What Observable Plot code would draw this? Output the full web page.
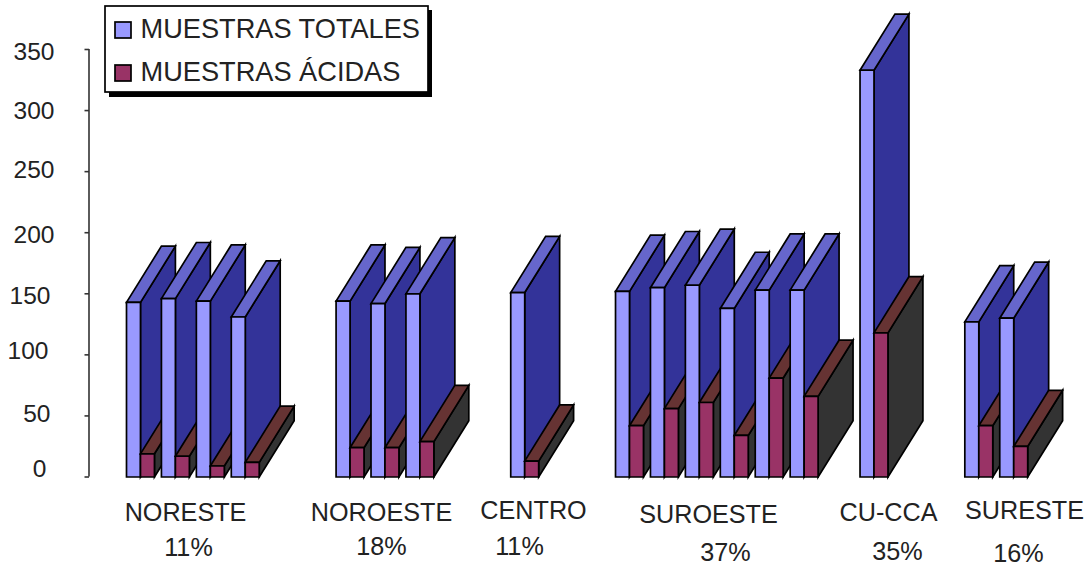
<!DOCTYPE html>
<html lang="es">
<head>
<meta charset="utf-8">
<script src="https://cdn.jsdelivr.net/npm/d3@7"></script>
<script src="https://cdn.jsdelivr.net/npm/@observablehq/plot@0.6"></script>
<style>html,body{margin:0;padding:0;background:#fff}svg{display:block}</style>
</head>
<body>
<div id="chart"></div>
<script>
// Data: one slot per category position of the original chart, null = empty slot
const totals = [143,146,144,131,null,null,144,142,150,null,null,151,null,null,152,155,157,138,153,153,null,333,null,null,127,130];
const acidic = [19,17,9,12,null,null,24,24,29,null,null,13,null,null,42,56,61,34,81,66,null,118,null,null,42,25];
const regions = ["NORESTE","NOROESTE","CENTRO","SUROESTE","CU-CCA","SURESTE"];
const shares = ["11%","18%","11%","37%","35%","16%"];
const tickValues = [0,50,100,150,200,250,300,350];
const seriesNames = ["MUESTRAS TOTALES","MUESTRAS ÁCIDAS"];

// Layout (kept apart from the data)
const X0 = 126, SLOT = 34.93, Y0 = 476.5, Y350 = 49;
const k = (Y0 - Y350) / 350;
const xv = px => (px - X0) / SLOT;      // pixel -> slot units, for annotations
const yv = px => (Y0 - px) / k;         // pixel -> value units, for annotations
const BAR = 0.4, DX = 1, DY = 46;       // bar width & depth in scale units
const regionPos = [[185,512],[381,512],[533,510],[708,514],[888,512],[1024,510]];
const sharePos  = [[188,547],[381,546],[519,546],[725,552],[897,551],[1018,553]];
const tickLabelPos = [[46,469],[50,414],[48,351],[50,296],[54,235],[54,170],[54,111],[54,52]];

const faces = [];
let id = 0;
function box(x, w, top, cFront, cTop, cSide) {
  const add = (fill, pts) => { id++; pts.forEach(([px,py]) => faces.push({id, fill, x:px, y:py})); };
  add(cSide, [[x+w,0],[x+w,top],[x+w+DX,top+DY],[x+w+DX,DY]]);
  add(cTop,  [[x,top],[x+w,top],[x+w+DX,top+DY],[x+DX,top+DY]]);
  add(cFront,[[x,0],[x,top],[x+w,top],[x+w,0]]);
}
totals.forEach((t, i) => {
  if (t == null) return;
  box(i, BAR, t, "#9999ff", "#6666cc", "#333399");
  box(i + BAR, BAR, acidic[i], "#993366", "#663333", "#333333");
});

const txt = "#222";
const font = "Liberation Sans, Arial, sans-serif";
const chart = Plot.plot({
  width: 1090, height: 567,
  marginLeft: 0, marginRight: 0, marginTop: 0, marginBottom: 0,
  style: {fontFamily: font, background: "#fff"},
  x: {domain: [0, 25], range: [X0, X0 + 25 * SLOT], axis: null},
  y: {domain: [0, 350], range: [Y0, Y350], axis: null},
  color: {type: "identity"},
  marks: [
    Plot.ruleX([xv(88.5)], {y1: 0, y2: 350, stroke: "#333", strokeWidth: 1.6}),
    Plot.text(tickValues, {
      x: (d, i) => xv(tickLabelPos[i][0]), y: (d, i) => yv(tickLabelPos[i][1]),
      text: d => String(d), textAnchor: "end", lineAnchor: "middle", fontSize: 24.5, fill: txt
    }),
    Plot.link(tickValues, {x1: xv(84), x2: xv(88.5), y1: d => d, y2: d => d, stroke: "#333", strokeWidth: 1.6}),
    Plot.line(faces, {
      x: "x", y: "y", z: "id", fill: "fill", stroke: "#000", strokeWidth: 1.7,
      curve: "linear-closed", strokeLinejoin: "miter", strokeMiterlimit: 4
    }),
    Plot.text(regions, {
      x: (d, i) => xv(regionPos[i][0]), y: (d, i) => yv(regionPos[i][1]),
      text: d => d, textAnchor: "middle", lineAnchor: "middle", fontSize: 25.2, fill: txt
    }),
    Plot.text(shares, {
      x: (d, i) => xv(sharePos[i][0]), y: (d, i) => yv(sharePos[i][1]),
      text: d => d, textAnchor: "middle", lineAnchor: "middle", fontSize: 25.2, fill: txt
    }),
    // Legend box with drop shadow
    Plot.rect([0], {x1: xv(109), x2: xv(432), y1: yv(10), y2: yv(97), fill: "#000"}),
    Plot.rect([0], {x1: xv(105), x2: xv(428), y1: yv(6), y2: yv(92), fill: "#fff", stroke: "#000", strokeWidth: 1.7}),
    Plot.rect([0], {x1: xv(115), x2: xv(131), y1: yv(22), y2: yv(38), fill: "#9999ff", stroke: "#000", strokeWidth: 1.7}),
    Plot.rect([0], {x1: xv(115), x2: xv(131), y1: yv(65), y2: yv(81), fill: "#993366", stroke: "#000", strokeWidth: 1.7}),
    Plot.text(seriesNames, {
      x: xv(140), y: (d, i) => yv([29, 72][i]),
      text: d => d, textAnchor: "start", lineAnchor: "middle", fontSize: 27.2, fill: txt
    })
  ]
});
document.getElementById("chart").append(chart);
</script>
</body>
</html>
